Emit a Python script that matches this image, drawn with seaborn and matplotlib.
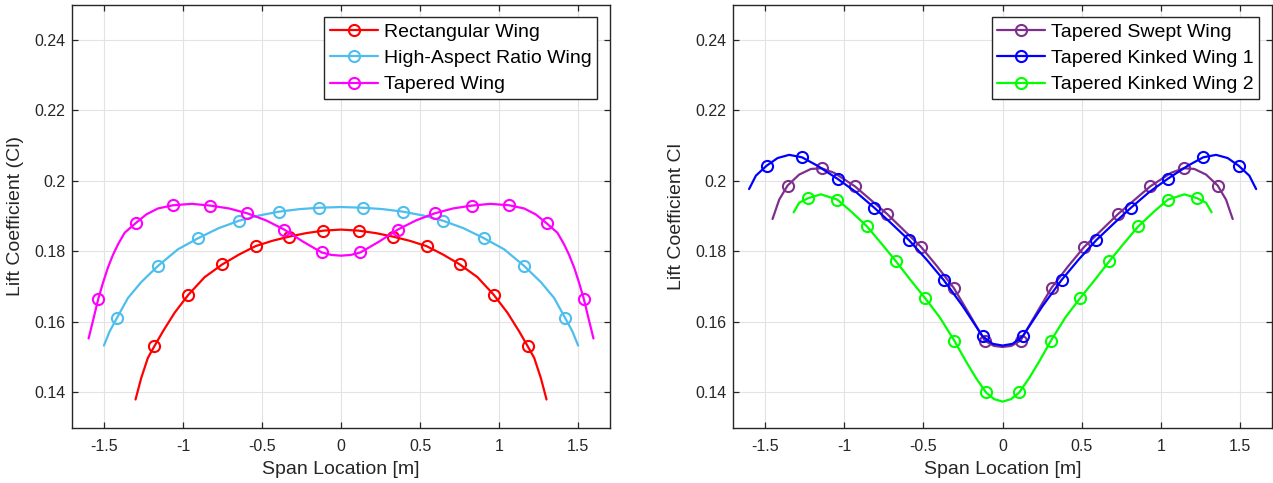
import matplotlib
matplotlib.use("Agg")
import matplotlib.pyplot as plt
import numpy as np
import pandas as pd
import seaborn as sns

# ---------------- spanwise lift distributions ----------------
# Left panel
rect_span = [-1.300, -1.264, -1.222, -1.181, -1.127, -1.053, -0.966, -0.863, -0.752, -0.646,
             -0.541, -0.436, -0.329, -0.220, -0.111, 0.000, 0.111, 0.220, 0.329, 0.436,
             0.541, 0.646, 0.752, 0.863, 0.966, 1.053, 1.127, 1.181, 1.222, 1.264, 1.300]
rect_cl = [0.1380, 0.1441, 0.1498, 0.1531, 0.1573, 0.1626, 0.1677, 0.1727, 0.1763, 0.1791,
           0.1815, 0.1830, 0.1842, 0.1852, 0.1859, 0.1862, 0.1859, 0.1852, 0.1842, 0.1830,
           0.1815, 0.1791, 0.1763, 0.1727, 0.1677, 0.1626, 0.1573, 0.1531, 0.1498, 0.1441, 0.1380]
rect_marks = [3, 6, 8, 10, 12, 14, 16, 18, 20, 22, 24, 27]

har_span = [-1.500, -1.464, -1.418, -1.348, -1.264, -1.158, -1.032, -0.902, -0.774, -0.646,
            -0.518, -0.390, -0.264, -0.138, 0.000, 0.138, 0.264, 0.390, 0.518, 0.646,
            0.774, 0.902, 1.032, 1.158, 1.264, 1.348, 1.418, 1.464, 1.500]
har_cl = [0.1533, 0.1573, 0.1611, 0.1668, 0.1713, 0.1759, 0.1806, 0.1838, 0.1866, 0.1887,
          0.1902, 0.1913, 0.1920, 0.1924, 0.1926, 0.1924, 0.1920, 0.1913, 0.1902, 0.1887,
          0.1866, 0.1838, 0.1806, 0.1759, 0.1713, 0.1668, 0.1611, 0.1573, 0.1533]
har_marks = [2, 5, 7, 9, 11, 13, 15, 17, 19, 21, 23, 26]

tap_span = [-1.597, -1.570, -1.536, -1.506, -1.475, -1.443, -1.411, -1.369, -1.300, -1.232,
            -1.158, -1.063, -0.944, -0.826, -0.709, -0.592, -0.474, -0.359, -0.241, -0.122,
            -0.060, 0.000, 0.060, 0.122, 0.241, 0.359, 0.474, 0.592, 0.709, 0.826,
            0.944, 1.063, 1.158, 1.232, 1.300, 1.369, 1.411, 1.443, 1.475, 1.506,
            1.536, 1.570, 1.597]
tap_cl = [0.1553, 0.1602, 0.1665, 0.1711, 0.1754, 0.1790, 0.1820, 0.1853, 0.1880, 0.1905,
          0.1922, 0.1931, 0.1935, 0.1930, 0.1922, 0.1908, 0.1888, 0.1862, 0.1828, 0.1797,
          0.1790, 0.1788, 0.1790, 0.1797, 0.1828, 0.1862, 0.1888, 0.1908, 0.1922, 0.1930,
          0.1935, 0.1931, 0.1922, 0.1905, 0.1880, 0.1853, 0.1820, 0.1790, 0.1754, 0.1711,
          0.1665, 0.1602, 0.1553]
tap_marks = [2, 8, 11, 13, 15, 17, 19, 23, 25, 27, 29, 31, 34, 40]

# Right panel
tsw_span = [-1.452, -1.410, -1.357, -1.284, -1.210, -1.143, -1.063, -0.933, -0.829, -0.728,
            -0.623, -0.515, -0.412, -0.309, -0.206, -0.113, -0.055, 0.000, 0.055, 0.113,
            0.206, 0.309, 0.412, 0.515, 0.623, 0.728, 0.829, 0.933, 1.063, 1.143,
            1.210, 1.284, 1.357, 1.410, 1.452]
tsw_cl = [0.1892, 0.1947, 0.1987, 0.2018, 0.2034, 0.2036, 0.2023, 0.1985, 0.1945, 0.1906,
          0.1860, 0.1813, 0.1757, 0.1697, 0.1619, 0.1547, 0.1532, 0.1529, 0.1532, 0.1547,
          0.1619, 0.1697, 0.1757, 0.1813, 0.1860, 0.1906, 0.1945, 0.1985, 0.2023, 0.2036,
          0.2034, 0.2018, 0.1987, 0.1947, 0.1892]
tsw_marks = [2, 5, 7, 9, 11, 13, 15, 19, 21, 23, 25, 27, 29, 32]

tkw1_span = [-1.600, -1.557, -1.490, -1.420, -1.347, -1.266, -1.168, -1.042, -0.924, -0.810,
             -0.701, -0.591, -0.480, -0.372, -0.252, -0.189, -0.126, -0.063, 0.000, 0.063,
             0.126, 0.189, 0.252, 0.372, 0.480, 0.591, 0.701, 0.810, 0.924, 1.042,
             1.168, 1.266, 1.347, 1.420, 1.490, 1.557, 1.600]
tkw1_cl = [0.1977, 0.2015, 0.2043, 0.2065, 0.2074, 0.2067, 0.2043, 0.2006, 0.1968, 0.1924,
           0.1879, 0.1832, 0.1777, 0.1719, 0.1645, 0.1602, 0.1559, 0.1538, 0.1533, 0.1538,
           0.1559, 0.1602, 0.1645, 0.1719, 0.1777, 0.1832, 0.1879, 0.1924, 0.1968, 0.2006,
           0.2043, 0.2067, 0.2074, 0.2065, 0.2043, 0.2015, 0.1977]
tkw1_marks = [2, 5, 7, 9, 11, 13, 16, 20, 23, 25, 27, 29, 31, 34]

tkw2_span = [-1.319, -1.284, -1.228, -1.147, -1.043, -0.958, -0.856, -0.764, -0.673, -0.583,
             -0.490, -0.398, -0.305, -0.231, -0.168, -0.105, -0.053, 0.000, 0.053, 0.105,
             0.168, 0.231, 0.305, 0.398, 0.490, 0.583, 0.673, 0.764, 0.856, 0.958,
             1.043, 1.147, 1.228, 1.284, 1.319]
tkw2_cl = [0.1911, 0.1938, 0.1951, 0.1962, 0.1947, 0.1914, 0.1871, 0.1822, 0.1772, 0.1720,
           0.1668, 0.1614, 0.1547, 0.1488, 0.1441, 0.1400, 0.1381, 0.1374, 0.1381, 0.1400,
           0.1441, 0.1488, 0.1547, 0.1614, 0.1668, 0.1720, 0.1772, 0.1822, 0.1871, 0.1914,
           0.1947, 0.1962, 0.1951, 0.1938, 0.1911]
tkw2_marks = [2, 4, 6, 8, 10, 12, 15, 19, 22, 24, 26, 28, 30, 32]

x_ticks = [-1.5, -1, -0.5, 0, 0.5, 1, 1.5]
x_ticklabels = ["-1.5", "-1", "-0.5", "0", "0.5", "1", "1.5"]
y_ticks = [0.14, 0.16, 0.18, 0.20, 0.22, 0.24]
y_ticklabels = ["0.14", "0.16", "0.18", "0.2", "0.22", "0.24"]

left_series = [
    ("Rectangular Wing", rect_span, rect_cl, rect_marks, "#FF0000"),
    ("High-Aspect Ratio Wing", har_span, har_cl, har_marks, "#4DBEEE"),
    ("Tapered Wing", tap_span, tap_cl, tap_marks, "#FF00FF"),
]
right_series = [
    ("Tapered Swept Wing", tsw_span, tsw_cl, tsw_marks, "#7E2F8E"),
    ("Tapered Kinked Wing 1", tkw1_span, tkw1_cl, tkw1_marks, "#0000FF"),
    ("Tapered Kinked Wing 2", tkw2_span, tkw2_cl, tkw2_marks, "#00FF00"),
]

# ---------------- styling ----------------
sns.set_style("ticks")
plt.rcParams["font.family"] = ["Liberation Sans", "DejaVu Sans"]
plt.rcParams["axes.unicode_minus"] = False

AX_COLOR = "#262626"

fig = plt.figure(figsize=(12.73, 4.83), dpi=100)
ax_left = fig.add_axes([0.0568, 0.1145, 0.4222, 0.8758])
ax_right = fig.add_axes([0.5760, 0.1145, 0.4232, 0.8758])


def draw_panel(ax, series, ylabel):
    for name, span, cl, marks, color in series:
        df = pd.DataFrame({"span": span, "cl": cl})
        sns.lineplot(data=df, x="span", y="cl", ax=ax, color=color,
                     sort=False, estimator=None, label=name,
                     linewidth=1.6, marker="o", markevery=marks,
                     markersize=8, markerfacecolor="none",
                     markeredgecolor=color, markeredgewidth=1.5,
                     solid_joinstyle="round")
    ax.set_xlim(-1.7, 1.7)
    ax.set_ylim(0.13, 0.25)
    ax.set_xticks(x_ticks)
    ax.set_xticklabels(x_ticklabels)
    ax.set_yticks(y_ticks)
    ax.set_yticklabels(y_ticklabels)
    ax.grid(True, color="#e3e3e3", linewidth=0.8)
    ax.set_axisbelow(True)
    for sp in ax.spines.values():
        sp.set_visible(True)
        sp.set_color(AX_COLOR)
        sp.set_linewidth(1.0)
    ax.tick_params(direction="in", top=True, right=True, length=4.5,
                   width=0.9, color=AX_COLOR, labelcolor=AX_COLOR,
                   labelsize=11.5)
    ax.tick_params(axis="x", pad=8)
    ax.tick_params(axis="y", pad=5)
    ax.set_xlabel("Span Location [m]", fontsize=14, color=AX_COLOR, labelpad=5)
    ax.set_ylabel(ylabel, fontsize=14, color=AX_COLOR, labelpad=7)
    leg = ax.legend(loc="upper right", fontsize=14, frameon=True, fancybox=False,
                    framealpha=1, edgecolor=AX_COLOR, borderaxespad=0.65,
                    handlelength=2.45, handletextpad=0.3, borderpad=0.3,
                    labelspacing=0.45, numpoints=1)
    leg.get_frame().set_linewidth(1.0)
    for t in leg.get_texts():
        t.set_color("#000000")


draw_panel(ax_left, left_series, "Lift Coefficient (Cl)")
draw_panel(ax_right, right_series, "Lift Coefficient Cl")

fig.savefig("out.png", dpi=100, facecolor="white")
